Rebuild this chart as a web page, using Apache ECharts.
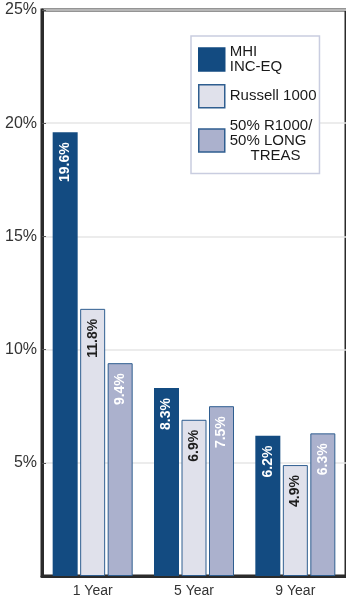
<!DOCTYPE html>
<html>
<head>
<meta charset="utf-8">
<script src="https://cdn.jsdelivr.net/npm/echarts@6/dist/echarts.min.js"></script>
<style>
  html, body { margin: 0; padding: 0; background: #ffffff; }
  #chart { width: 346px; height: 601px; }
</style>
</head>
<body>
<div id="chart"></div>
<script>
// Annualized returns by period
const categories = ['1 Year', '5 Year', '9 Year'];
const mhiIncEq = [19.6, 8.3, 6.2];
const russell1000 = [11.8, 6.9, 4.9];
const blendR1000Treas = [9.4, 7.5, 6.3];
const seriesNames = ['MHI\nINC-EQ', 'Russell 1000', '50% R1000/\n50% LONG\n     TREAS'];
const yAxisMin = 0;
const yAxisMax = 25;
const yAxisStep = 5;

const FONT = '"Liberation Sans", Arial, Helvetica, sans-serif';
const AXIS_DARK = '#2b2b2b';
const BAR_EDGE = '#2f5e90';

function barLabel(color) {
  return {
    show: true,
    position: 'insideTop',
    rotate: 90,
    align: 'right',
    verticalAlign: 'middle',
    distance: 10,
    fontSize: 14,
    fontWeight: 'bold',
    fontFamily: FONT,
    color: color,
    formatter: p => p.value.toFixed(1) + '%'
  };
}

const chart = echarts.init(document.getElementById('chart'), null, { renderer: 'canvas' });

chart.setOption({
  animation: false,
  backgroundColor: '#ffffff',
  textStyle: { fontFamily: FONT },
  grid: {
    left: 42,
    right: -3,
    top: 10,
    bottom: 25,
    show: true,
    borderColor: AXIS_DARK,
    borderWidth: 3,
    backgroundColor: 'transparent'
  },
  legend: {
    orient: 'vertical',
    left: 191,
    top: 36,
    padding: [8.5, 3, 10.5, 7],
    itemGap: 9.5,
    itemWidth: 26,
    itemHeight: 23,
    itemStyle: { borderWidth: 1.5 },
    icon: 'rect',
    backgroundColor: '#ffffff',
    borderColor: '#c9cde0',
    borderWidth: 1.5,
    textStyle: {
      fontFamily: FONT,
      fontSize: 15,
      lineHeight: 15,
      color: '#1a1a1a'
    },
    data: seriesNames
  },
  xAxis: {
    type: 'category',
    data: categories,
    axisLine: { lineStyle: { color: AXIS_DARK, width: 3 } },
    axisTick: { inside: true, length: 14, lineStyle: { color: AXIS_DARK, width: 2 } },
    axisLabel: { fontSize: 14, color: '#333333', margin: 8, fontFamily: FONT },
    splitLine: { show: false }
  },
  yAxis: {
    type: 'value',
    min: yAxisMin,
    max: yAxisMax,
    interval: yAxisStep,
    axisLine: { show: true, lineStyle: { color: AXIS_DARK, width: 3 } },
    axisTick: { show: true, inside: true, length: 4, lineStyle: { color: '#555555', width: 1 } },
    axisLabel: {
      formatter: '{value}%',
      fontSize: 16,
      color: '#333333',
      margin: 5,
      showMinLabel: false,
      fontFamily: FONT
    },
    splitLine: { show: true, lineStyle: { color: '#e6e6e6', width: 1.5 } }
  },
  series: [
    {
      name: seriesNames[0],
      type: 'bar',
      data: mhiIncEq,
      barWidth: 25,
      barGap: '10%',
      itemStyle: { color: '#134b81', borderColor: '#134b81', borderWidth: 0 },
      label: barLabel('#ffffff')
    },
    {
      name: seriesNames[1],
      type: 'bar',
      data: russell1000,
      barWidth: 25,
      barGap: '10%',
      itemStyle: { color: '#e0e1eb', borderColor: BAR_EDGE, borderWidth: 1 },
      label: barLabel('#1e1e1e')
    },
    {
      name: seriesNames[2],
      type: 'bar',
      data: blendR1000Treas,
      barWidth: 25,
      barGap: '10%',
      itemStyle: { color: '#abb1cd', borderColor: BAR_EDGE, borderWidth: 1 },
      label: barLabel('#ffffff')
    }
  ]
});
</script>
</body>
</html>
